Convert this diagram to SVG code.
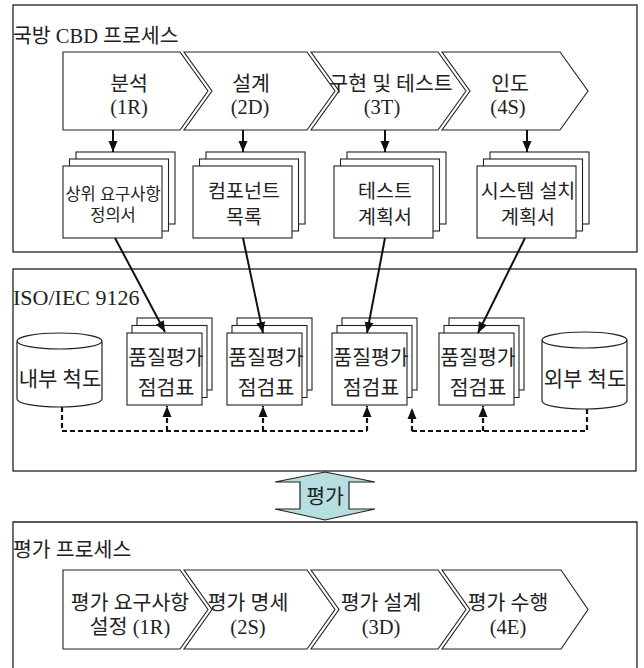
<svg xmlns="http://www.w3.org/2000/svg" width="644" height="668" viewBox="0 0 644 668">
<style>
text{font-family:"Liberation Serif","Noto Sans CJK KR",serif;fill:#222;text-anchor:middle}
.t{text-anchor:start}
.frame{fill:#fff;stroke:#222;stroke-width:1.3}
.chev{fill:#fff;stroke:#222;stroke-width:1.1}
.doc rect{fill:#fff;stroke:#222;stroke-width:1.1}
.cyl{fill:#fff;stroke:#222;stroke-width:1.2}
.arr{fill:none;stroke:#111;stroke-width:2}
.dash{fill:none;stroke:#111;stroke-width:2.2;stroke-dasharray:5 3}
.f20{font-size:20.5px}
.f19{font-size:19.5px}
</style>
<defs>
<marker id="ah" markerUnits="userSpaceOnUse" markerWidth="12" markerHeight="12" viewBox="0 0 12 12" refX="11" refY="6" orient="auto">
<path d="M0,1.5 L11,6 L0,10.5 Z" fill="#111" stroke="none"/>
</marker>
</defs>
<rect id="frame-cbd" class="frame" x="13" y="5" width="624" height="247"/>
<rect id="frame-iso" class="frame" x="13" y="269" width="623" height="202"/>
<path id="frame-eval" class="frame" d="M13,670 V522 H637 V670"/>
<text class="t f20" x="13" y="43">국방 CBD 프로세스</text>
<text class="t" x="13" y="305" font-size="22">ISO/IEC 9126</text>
<text class="t f20" x="13" y="557">평가 프로세스</text>

<g id="cbd-1R"><path class="chev" d="M63,52 L180,52 L208,91 L180,130 L63,130 Z"/><text class="f20" x="129" y="91">분석</text><text class="f20" x="129" y="114">(1R)</text></g>
<g id="cbd-2D"><path class="chev" d="M184,52 L307,52 L335,91 L307,130 L184,130 L212,91 Z"/><text class="f20" x="251" y="91">설계</text><text class="f20" x="250" y="114">(2D)</text></g>
<g id="cbd-3T"><path class="chev" d="M311,52 L438,52 L466,91 L438,130 L311,130 L339,91 Z"/><text class="f20" x="391" y="91">구현 및 테스트</text><text class="f20" x="382" y="114">(3T)</text></g>
<g id="cbd-4S"><path class="chev" d="M442,52 L560,52 L588,91 L560,130 L442,130 L470,91 Z"/><text class="f20" x="510" y="91">인도</text><text class="f20" x="508" y="114">(4S)</text></g>

<g id="doc-req" class="doc"><rect x="76" y="152" width="99" height="72"/><rect x="69.5" y="159" width="99" height="72"/><rect x="63" y="166" width="99" height="72"/><text x="113" y="200" font-size="16.5">상위 요구사항</text><text x="113" y="221" font-size="16.5">정의서</text></g>
<g id="doc-comp" class="doc"><rect x="206" y="152" width="99" height="72"/><rect x="199.5" y="159" width="99" height="72"/><rect x="193" y="166" width="99" height="72"/><text class="f19" x="244" y="198">컴포넌트</text><text class="f19" x="244" y="224">목록</text></g>
<g id="doc-test" class="doc"><rect x="347" y="152" width="99" height="72"/><rect x="340.5" y="159" width="99" height="72"/><rect x="334" y="166" width="99" height="72"/><text class="f19" x="385" y="198">테스트</text><text class="f19" x="385" y="224">계획서</text></g>
<g id="doc-inst" class="doc"><rect x="490" y="152" width="99" height="72"/><rect x="483.5" y="159" width="99" height="72"/><rect x="477" y="166" width="99" height="72"/><text class="f19" x="528" y="198">시스템 설치</text><text class="f19" x="528" y="224">계획서</text></g>

<g id="cyl-internal"><path class="cyl" d="M17,341 A42.5,8 0 0 1 102,341 L102,399 A42.5,8 0 0 1 17,399 Z M17,341 A42.5,8 0 0 0 102,341"/><text x="60" y="386" font-size="21">내부 척도</text></g>
<g id="cyl-external"><path class="cyl" d="M542,340 A42.5,8 0 0 1 627,340 L627,401 A42.5,8 0 0 1 542,401 Z M542,340 A42.5,8 0 0 0 627,340"/><text x="585" y="386" font-size="21">외부 척도</text></g>

<g id="chk-1" class="doc"><rect x="137" y="318" width="75" height="72"/><rect x="132" y="325.5" width="75" height="72"/><rect x="127" y="333" width="75" height="72"/><text class="f20" x="166" y="365">품질평가</text><text class="f20" x="166" y="395">점검표</text></g>
<g id="chk-2" class="doc"><rect x="237" y="318" width="75" height="72"/><rect x="232" y="325.5" width="75" height="72"/><rect x="227" y="333" width="75" height="72"/><text class="f20" x="266" y="365">품질평가</text><text class="f20" x="266" y="395">점검표</text></g>
<g id="chk-3" class="doc"><rect x="342" y="318" width="75" height="72"/><rect x="337" y="325.5" width="75" height="72"/><rect x="332" y="333" width="75" height="72"/><text class="f20" x="371" y="365">품질평가</text><text class="f20" x="371" y="395">점검표</text></g>
<g id="chk-4" class="doc"><rect x="449" y="318" width="75" height="72"/><rect x="444" y="325.5" width="75" height="72"/><rect x="439" y="333" width="75" height="72"/><text class="f20" x="478" y="365">품질평가</text><text class="f20" x="478" y="395">점검표</text></g>

<g id="eval-arrow"><path d="M325,472 L375,482 L349,482 L349,509 L375,509 L325,520 L275,509 L300,509 L300,482 L275,482 Z" fill="#b7dee0" stroke="#222" stroke-width="1.2"/><text class="f20" x="325" y="504">평가</text></g>

<g id="pro-1R"><path class="chev" d="M63,570 L180,570 L208,609.5 L180,649 L63,649 Z"/><text class="f20" x="130" y="610">평가 요구사항</text><text class="f20" x="130" y="634">설정 (1R)</text></g>
<g id="pro-2S"><path class="chev" d="M184,570 L307,570 L335,609.5 L307,649 L184,649 L212,609.5 Z"/><text class="f20" x="248" y="610">평가 명세</text><text class="f20" x="248" y="634">(2S)</text></g>
<g id="pro-3D"><path class="chev" d="M311,570 L438,570 L466,609.5 L438,649 L311,649 L339,609.5 Z"/><text class="f20" x="381" y="610">평가 설계</text><text class="f20" x="381" y="634">(3D)</text></g>
<g id="pro-4E"><path class="chev" d="M442,570 L561,570 L588,609.5 L561,649 L442,649 L470,609.5 Z"/><text class="f20" x="508" y="610">평가 수행</text><text class="f20" x="508" y="634">(4E)</text></g>

<g id="connectors">
<path class="arr" d="M113,130 V152" marker-end="url(#ah)"/>
<path class="arr" d="M243,130 V152" marker-end="url(#ah)"/>
<path class="arr" d="M385,130 V152" marker-end="url(#ah)"/>
<path class="arr" d="M527,130 V152" marker-end="url(#ah)"/>
<path class="arr" d="M115,238 L165,332" marker-end="url(#ah)"/>
<path class="arr" d="M243,238 L263,333" marker-end="url(#ah)"/>
<path class="arr" d="M385,238 L367,333" marker-end="url(#ah)"/>
<path class="arr" d="M525,238 L478,333" marker-end="url(#ah)"/>
<path class="dash" d="M62,407 V431 H367"/>
<path class="dash" d="M167,431 V406" marker-end="url(#ah)"/>
<path class="dash" d="M263,431 V406" marker-end="url(#ah)"/>
<path class="dash" d="M367,431 V406" marker-end="url(#ah)"/>
<path class="dash" d="M587,409 V431 H412"/>
<path class="dash" d="M412,431 V408" marker-end="url(#ah)"/>
<path class="dash" d="M483,431 V406" marker-end="url(#ah)"/>
</g>
</svg>
